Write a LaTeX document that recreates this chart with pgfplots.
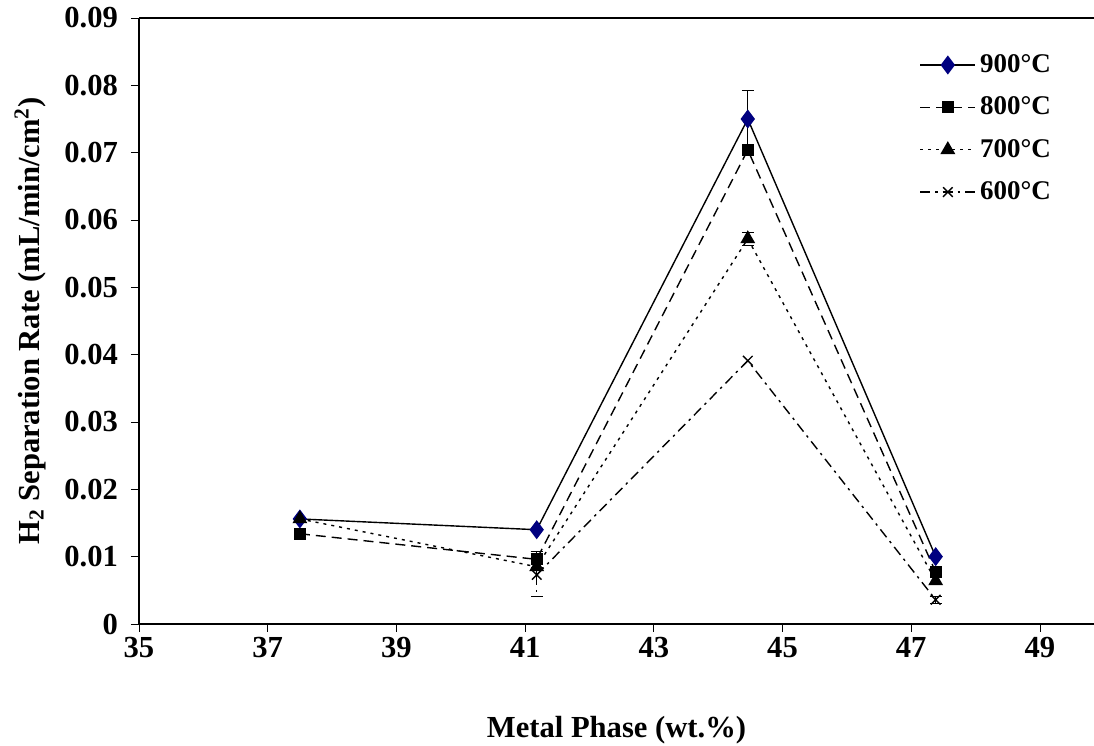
\documentclass[border=0pt]{standalone}
\usepackage{pgfplots}
\pgfplotsset{compat=1.18}
\usepackage{fontspec}
\setmainfont{Liberation Serif}
\definecolor{navyd}{RGB}{0,0,128}
\begin{document}
\begin{tikzpicture}
\begin{axis}[
  scale only axis,
  width=477.5pt, height=303pt,
  xmin=35, xmax=49.84, ymin=0, ymax=0.09,
  axis x line*=bottom, axis y line*=left,
  axis line style={line width=0.9pt},
  xtick={35,37,...,49},
  ytick={0,0.01,...,0.09},
  tick align=outside, major tick length=4pt,
  tick style={black, line width=0.6pt},
  every tick/.style={black},
  /pgf/number format/assume math mode=true,
  yticklabel style={/pgf/number format/fixed,/pgf/number format/precision=2,font=\fontsize{15.3}{18}\selectfont\bfseries, xshift=-3pt},
  xticklabel style={font=\fontsize{15.3}{18}\selectfont\bfseries, yshift=1pt},
  scaled y ticks=false,
  xlabel={Metal Phase (wt.\%)},
  ylabel={H\textsubscript{2} Separation Rate (mL/min/cm\textsuperscript{2})},
  label style={font=\fontsize{15.3}{18}\selectfont\bfseries},
  xlabel style={at={(axis description cs:0.5,0)}, anchor=center, yshift=-53pt},
  ylabel style={at={(axis description cs:-0.114,0.5)}, anchor=center, rotate=0},
  legend style={draw=none, fill=none, at={(0.817,0.947)}, anchor=north west,
    font=\fontsize{13.5}{16}\selectfont\bfseries, row sep=6.7pt, inner sep=0pt},
  legend cell align=left,
  legend image code/.code={\draw[mark repeat=2,mark phase=2] plot coordinates {(0pt,0pt) (13.75pt,0pt) (27.5pt,0pt)};},
  error bars/error bar style={black, line width=0.6pt},
  error bars/error mark options={rotate=90, mark size=3pt, line width=0.6pt},
  clip=false,
]
\coordinate (ll) at (rel axis cs:0,0);
\coordinate (ur) at (rel axis cs:1,1);
\addplot[black, line width=0.7pt, mark=diamond*, mark size=4.2pt, mark options={solid, fill=navyd, draw=navyd},
  error bars/.cd, y dir=both, y explicit]
  coordinates {(37.5,0.0156) (41.18,0.0140) (44.46,0.0750) +- (0,0.0042) (47.38,0.0100)};
\addlegendentry{900°C}
\addplot[black, line width=0.7pt, dash pattern=on 5pt off 3pt, mark=square*, mark size=2.6pt, mark options={solid, fill=black},
  error bars/.cd, y dir=both, y explicit]
  coordinates {(37.5,0.0134) (41.18,0.0096) +- (0,0.0012) (44.46,0.0704) (47.38,0.0077)};
\addlegendentry{800°C}
\addplot[black, line width=0.7pt, dash pattern=on 1.5pt off 2.5pt, mark=triangle*, mark size=3.6pt, mark options={solid, fill=black},
  error bars/.cd, y dir=both, y explicit]
  coordinates {(37.5,0.0156) (41.18,0.0085) (44.46,0.0572) +- (0,0.0010) (47.38,0.0064)};
\addlegendentry{700°C}
\addplot[black, line width=0.7pt, dash pattern=on 5pt off 2.5pt on 1.2pt off 2.5pt, mark=x, mark size=3.4pt, mark options={solid, line width=0.7pt},
  error bars/.cd, y dir=both, y explicit]
  coordinates {(41.18,0.0073) +- (0,0.0032) (44.46,0.0391) (47.38,0.0036) +- (0,0.0005)};
\addlegendentry{600°C}
\draw[line width=0.9pt] (rel axis cs:0,1) -- (rel axis cs:1,1);
\end{axis}
\pgfresetboundingbox
\path ([xshift=-69.5pt,yshift=-61pt]ll) rectangle ([yshift=9pt]ur);
\end{tikzpicture}
\end{document}
